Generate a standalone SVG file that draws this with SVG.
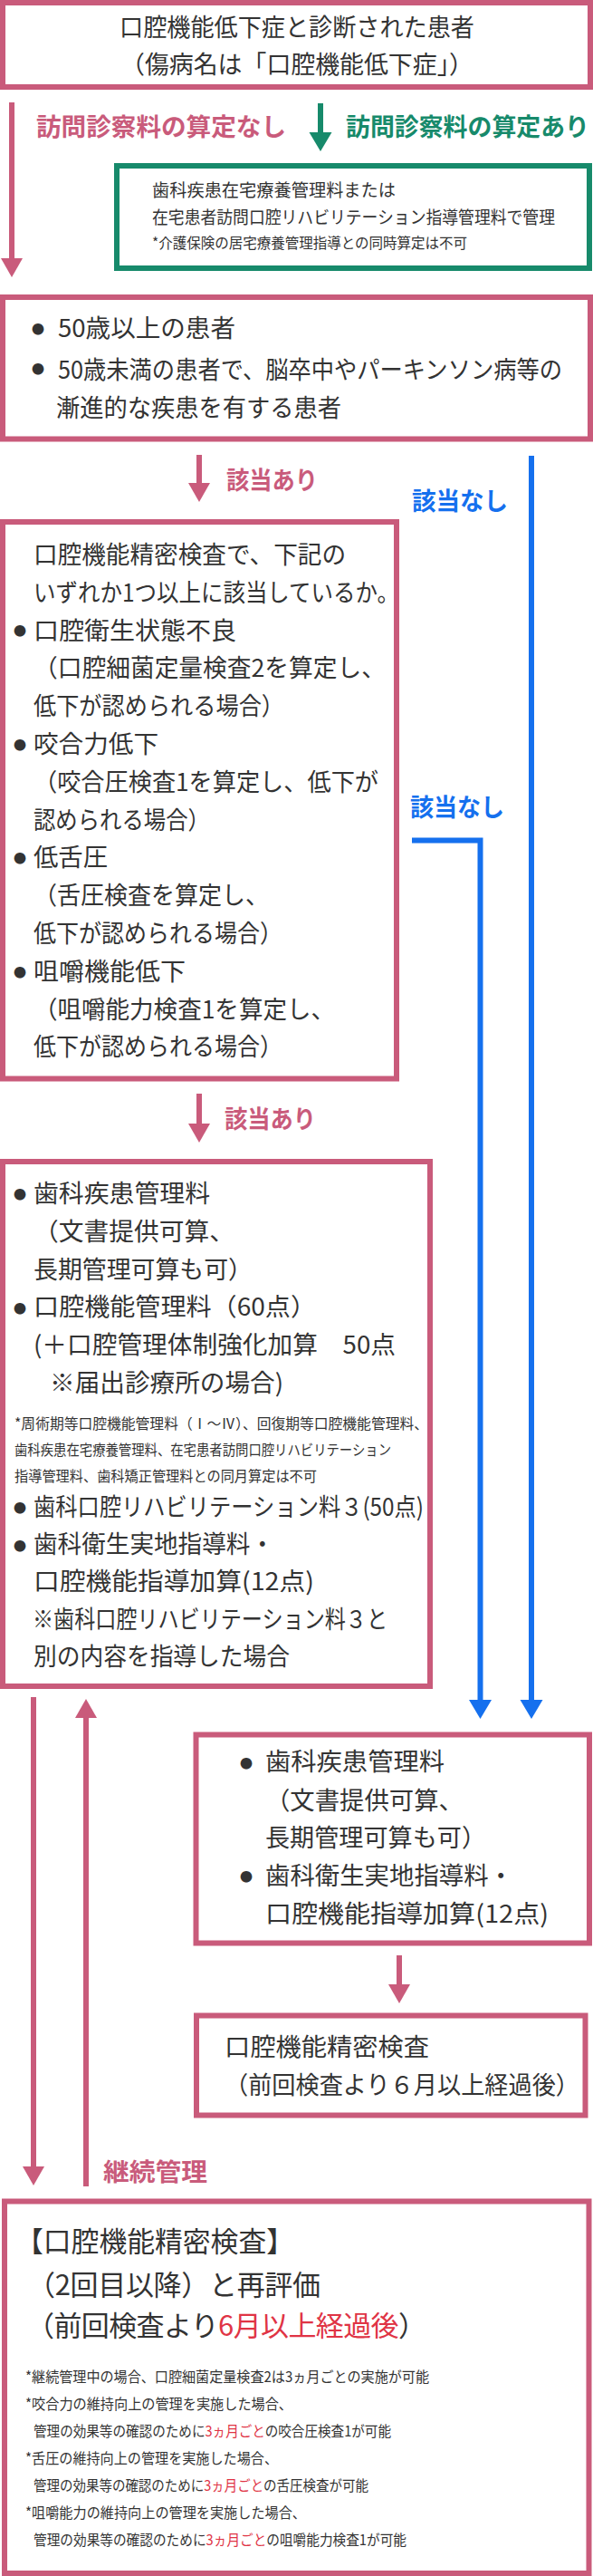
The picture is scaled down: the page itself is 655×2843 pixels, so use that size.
<svg xmlns="http://www.w3.org/2000/svg" width="655" height="2843" viewBox="0 0 655 2843">
<style>
text{font-family:"Noto Sans CJK JP","Noto Sans CJK SC",sans-serif;fill:#333;}
.m{font-size:27px;}
.s{font-size:16px;}
.g{font-size:19.5px;}
.h{font-size:31px;}
.bul{font-size:14px;text-anchor:middle;}
.lbl{font-weight:700;font-size:27px;}
.pk{fill:#C95B7B;}
.gn{fill:#178A6B;}
.bl{fill:#1570EE;}
.red{fill:#E03445;}
.box{fill:#fff;stroke:#C95B7B;stroke-width:6;}
.gbox{fill:#fff;stroke:#178A6B;stroke-width:6;}
.cp{fill:none;stroke:#C95B7B;stroke-width:6;}
.cg{fill:none;stroke:#178A6B;stroke-width:6;}
.cb{fill:none;stroke:#1570EE;stroke-width:6;}
</style>
<defs>
<marker id="ahp" viewBox="0 -13 22 26" refX="1" refY="0" markerWidth="22" markerHeight="26" markerUnits="userSpaceOnUse" orient="auto"><path d="M0,-12 L21,0 L0,12z" fill="#C95B7B"/></marker>
<marker id="ahg" viewBox="0 -13 22 26" refX="1" refY="0" markerWidth="22" markerHeight="26" markerUnits="userSpaceOnUse" orient="auto"><path d="M0,-12.5 L21,0 L0,12.5z" fill="#178A6B"/></marker>
<marker id="ahb" viewBox="0 -13 22 26" refX="1" refY="0" markerWidth="22" markerHeight="26" markerUnits="userSpaceOnUse" orient="auto"><path d="M0,-12.5 L21,0 L0,12.5z" fill="#1570EE"/></marker>
</defs>
<rect width="655" height="2843" fill="#fff"/>

<g id="connectors">
<line class="cp" x1="13" y1="113" x2="13" y2="286" marker-end="url(#ahp)"/>
<line class="cg" x1="354" y1="114" x2="354" y2="147" marker-end="url(#ahg)"/>
<line class="cp" x1="220" y1="502" x2="220" y2="534" marker-end="url(#ahp)"/>
<line class="cb" x1="587" y1="503" x2="587" y2="1877" marker-end="url(#ahb)"/>
<polyline class="cb" points="455,927.5 530.5,927.5 530.5,1877" marker-end="url(#ahb)"/>
<line class="cp" x1="220" y1="1207" x2="220" y2="1241" marker-end="url(#ahp)"/>
<line class="cp" x1="37" y1="1873" x2="37" y2="2392" marker-end="url(#ahp)"/>
<line class="cp" x1="95" y1="2413" x2="95" y2="1895" marker-end="url(#ahp)"/>
<line class="cp" x1="441" y1="2158" x2="441" y2="2191" marker-end="url(#ahp)"/>
</g>

<g id="edge-labels">
<text class="lbl pk" x="40" y="150" textLength="276" lengthAdjust="spacingAndGlyphs">訪問診察料の算定なし</text>
<text class="lbl gn" x="382" y="150" textLength="269" lengthAdjust="spacingAndGlyphs">訪問診察料の算定あり</text>
<text class="lbl pk" x="250" y="540" textLength="101" lengthAdjust="spacingAndGlyphs">該当あり</text>
<text class="lbl bl" x="455" y="563" textLength="106" lengthAdjust="spacingAndGlyphs">該当なし</text>
<text class="lbl bl" x="453" y="901" textLength="104" lengthAdjust="spacingAndGlyphs">該当なし</text>
<text class="lbl pk" x="248" y="1245" textLength="101" lengthAdjust="spacingAndGlyphs">該当あり</text>
<text class="lbl pk" x="114" y="2407" textLength="115" lengthAdjust="spacingAndGlyphs">継続管理</text>
</g>

<g id="n1">
<rect class="box" x="3" y="3" width="649" height="93"/>
<text class="m" x="132" y="40" textLength="392" lengthAdjust="spacingAndGlyphs">口腔機能低下症と診断された患者</text>
<text class="m" x="133" y="81" textLength="390" lengthAdjust="spacingAndGlyphs">（傷病名は「口腔機能低下症」）</text>
</g>

<g id="n2">
<rect class="gbox" x="129" y="183" width="522" height="113"/>
<text class="g" x="168" y="217" textLength="269" lengthAdjust="spacingAndGlyphs">歯科疾患在宅療養管理料または</text>
<text class="g" x="168" y="247" textLength="445" lengthAdjust="spacingAndGlyphs">在宅患者訪問口腔リハビリテーション指導管理料で管理</text>
<text class="s" x="168" y="274" textLength="348" lengthAdjust="spacingAndGlyphs">*介護保険の居宅療養管理指導との同時算定は不可</text>
</g>

<g id="n3">
<rect class="box" x="3" y="328" width="649" height="156.5"/>
<text class="bul" x="42" y="368">●</text>
<text class="m" x="64" y="372" textLength="196" lengthAdjust="spacingAndGlyphs">50歳以上の患者</text>
<text class="bul" x="42" y="412">●</text>
<text class="m" x="64" y="418" textLength="557" lengthAdjust="spacingAndGlyphs">50歳未満の患者で、脳卒中やパーキンソン病等の</text>
<text class="m" x="62" y="460" textLength="315" lengthAdjust="spacingAndGlyphs">漸進的な疾患を有する患者</text>
</g>

<g id="n4">
<rect class="box" x="3" y="576" width="435" height="614.5"/>
<text class="m" x="37" y="622" textLength="345" lengthAdjust="spacingAndGlyphs">口腔機能精密検査で、下記の</text>
<text class="m" x="37" y="664" textLength="404" lengthAdjust="spacingAndGlyphs">いずれか1つ以上に該当しているか。</text>
<text class="bul" x="22" y="701">●</text>
<text class="m" x="37" y="705.6" textLength="224" lengthAdjust="spacingAndGlyphs">口腔衛生状態不良</text>
<text class="m" x="37" y="747.4" textLength="389" lengthAdjust="spacingAndGlyphs">（口腔細菌定量検査2を算定し、</text>
<text class="m" x="37" y="789.2" textLength="277" lengthAdjust="spacingAndGlyphs">低下が認められる場合）</text>
<text class="bul" x="22" y="826.5">●</text>
<text class="m" x="37" y="831" textLength="138" lengthAdjust="spacingAndGlyphs">咬合力低下</text>
<text class="m" x="37" y="872.8" textLength="381" lengthAdjust="spacingAndGlyphs">（咬合圧検査1を算定し、低下が</text>
<text class="m" x="37" y="914.6" textLength="195" lengthAdjust="spacingAndGlyphs">認められる場合）</text>
<text class="bul" x="22" y="952">●</text>
<text class="m" x="37" y="956.4" textLength="82" lengthAdjust="spacingAndGlyphs">低舌圧</text>
<text class="m" x="37" y="998.2" textLength="260" lengthAdjust="spacingAndGlyphs">（舌圧検査を算定し、</text>
<text class="m" x="37" y="1040" textLength="275" lengthAdjust="spacingAndGlyphs">低下が認められる場合）</text>
<text class="bul" x="22" y="1077.5">●</text>
<text class="m" x="37" y="1081.8" textLength="168" lengthAdjust="spacingAndGlyphs">咀嚼機能低下</text>
<text class="m" x="37" y="1123.6" textLength="333" lengthAdjust="spacingAndGlyphs">（咀嚼能力検査1を算定し、</text>
<text class="m" x="37" y="1165.4" textLength="275" lengthAdjust="spacingAndGlyphs">低下が認められる場合）</text>
</g>

<g id="n5">
<rect class="box" x="3" y="1282" width="472" height="579"/>
<text class="bul" x="22" y="1322.5">●</text>
<text class="m" x="37" y="1327" textLength="195" lengthAdjust="spacingAndGlyphs">歯科疾患管理料</text>
<text class="m" x="37" y="1369" textLength="222" lengthAdjust="spacingAndGlyphs">（文書提供可算、</text>
<text class="m" x="37" y="1411" textLength="242" lengthAdjust="spacingAndGlyphs">長期管理可算も可）</text>
<text class="bul" x="22" y="1448.5">●</text>
<text class="m" x="37" y="1452" textLength="312" lengthAdjust="spacingAndGlyphs">口腔機能管理料（60点）</text>
<text class="m" x="37" y="1494" textLength="400" lengthAdjust="spacingAndGlyphs">(＋口腔管理体制強化加算　50点</text>
<text class="m" x="55" y="1536" textLength="258" lengthAdjust="spacingAndGlyphs">※届出診療所の場合)</text>
<text class="s" x="16" y="1577" textLength="457" lengthAdjust="spacingAndGlyphs">*周術期等口腔機能管理料（Ⅰ～Ⅳ）、回復期等口腔機能管理料、</text>
<text class="s" x="16" y="1606" textLength="416" lengthAdjust="spacingAndGlyphs">歯科疾患在宅療養管理料、在宅患者訪問口腔リハビリテーション</text>
<text class="s" x="16" y="1635" textLength="334" lengthAdjust="spacingAndGlyphs">指導管理料、歯科矯正管理料との同月算定は不可</text>
<text class="bul" x="22" y="1668.5">●</text>
<text class="m" x="37" y="1673" textLength="431" lengthAdjust="spacingAndGlyphs">歯科口腔リハビリテーション料３(50点)</text>
<text class="bul" x="22" y="1710.5">●</text>
<text class="m" x="37" y="1714" textLength="266" lengthAdjust="spacingAndGlyphs">歯科衛生実地指導料・</text>
<text class="m" x="37" y="1755" textLength="310" lengthAdjust="spacingAndGlyphs">口腔機能指導加算(12点)</text>
<text class="m" x="36" y="1797" textLength="392" lengthAdjust="spacingAndGlyphs">※歯科口腔リハビリテーション料３と</text>
<text class="m" x="37" y="1838" textLength="283" lengthAdjust="spacingAndGlyphs">別の内容を指導した場合</text>
</g>

<g id="n6">
<rect class="box" x="216.5" y="1914.5" width="434.5" height="230"/>
<text class="bul" x="272" y="1950.5">●</text>
<text class="m" x="293" y="1954" textLength="198" lengthAdjust="spacingAndGlyphs">歯科疾患管理料</text>
<text class="m" x="293" y="1997" textLength="219" lengthAdjust="spacingAndGlyphs">（文書提供可算、</text>
<text class="m" x="293" y="2038" textLength="244" lengthAdjust="spacingAndGlyphs">長期管理可算も可）</text>
<text class="bul" x="272" y="2075.5">●</text>
<text class="m" x="293" y="2080" textLength="274" lengthAdjust="spacingAndGlyphs">歯科衛生実地指導料・</text>
<text class="m" x="293" y="2122" textLength="313" lengthAdjust="spacingAndGlyphs">口腔機能指導加算(12点)</text>
</g>

<g id="n7">
<rect class="box" x="217" y="2224.5" width="429.5" height="110"/>
<text class="m" x="248" y="2269" textLength="226" lengthAdjust="spacingAndGlyphs">口腔機能精密検査</text>
<text class="m" x="248" y="2311" textLength="392" lengthAdjust="spacingAndGlyphs">（前回検査より６月以上経過後）</text>
</g>

<g id="n8">
<rect class="box" x="5" y="2429.5" width="645.5" height="410.5"/>
<text class="h" x="17" y="2485" textLength="308" lengthAdjust="spacingAndGlyphs">【口腔機能精密検査】</text>
<text class="h" x="30" y="2533" textLength="324" lengthAdjust="spacing">（2回目以降）と再評価</text>
<text class="h" x="29" y="2578" textLength="442" lengthAdjust="spacing">（前回検査より<tspan class="red">6月以上経過後</tspan>）</text>
<text class="s" x="28" y="2629" textLength="446" lengthAdjust="spacingAndGlyphs">*継続管理中の場合、口腔細菌定量検査2は3ヵ月ごとの実施が可能</text>
<text class="s" x="28" y="2659" textLength="295" lengthAdjust="spacingAndGlyphs">*咬合力の維持向上の管理を実施した場合、</text>
<text class="s" x="37" y="2689" textLength="395" lengthAdjust="spacingAndGlyphs">管理の効果等の確認のために<tspan class="red">3ヵ月ごと</tspan>の咬合圧検査1が可能</text>
<text class="s" x="28" y="2719" textLength="279" lengthAdjust="spacingAndGlyphs">*舌圧の維持向上の管理を実施した場合、</text>
<text class="s" x="37" y="2749" textLength="370" lengthAdjust="spacingAndGlyphs">管理の効果等の確認のために<tspan class="red">3ヵ月ごと</tspan>の舌圧検査が可能</text>
<text class="s" x="28" y="2779" textLength="310" lengthAdjust="spacingAndGlyphs">*咀嚼能力の維持向上の管理を実施した場合、</text>
<text class="s" x="37" y="2809" textLength="412" lengthAdjust="spacingAndGlyphs">管理の効果等の確認のために<tspan class="red">3ヵ月ごと</tspan>の咀嚼能力検査1が可能</text>
</g>
</svg>
